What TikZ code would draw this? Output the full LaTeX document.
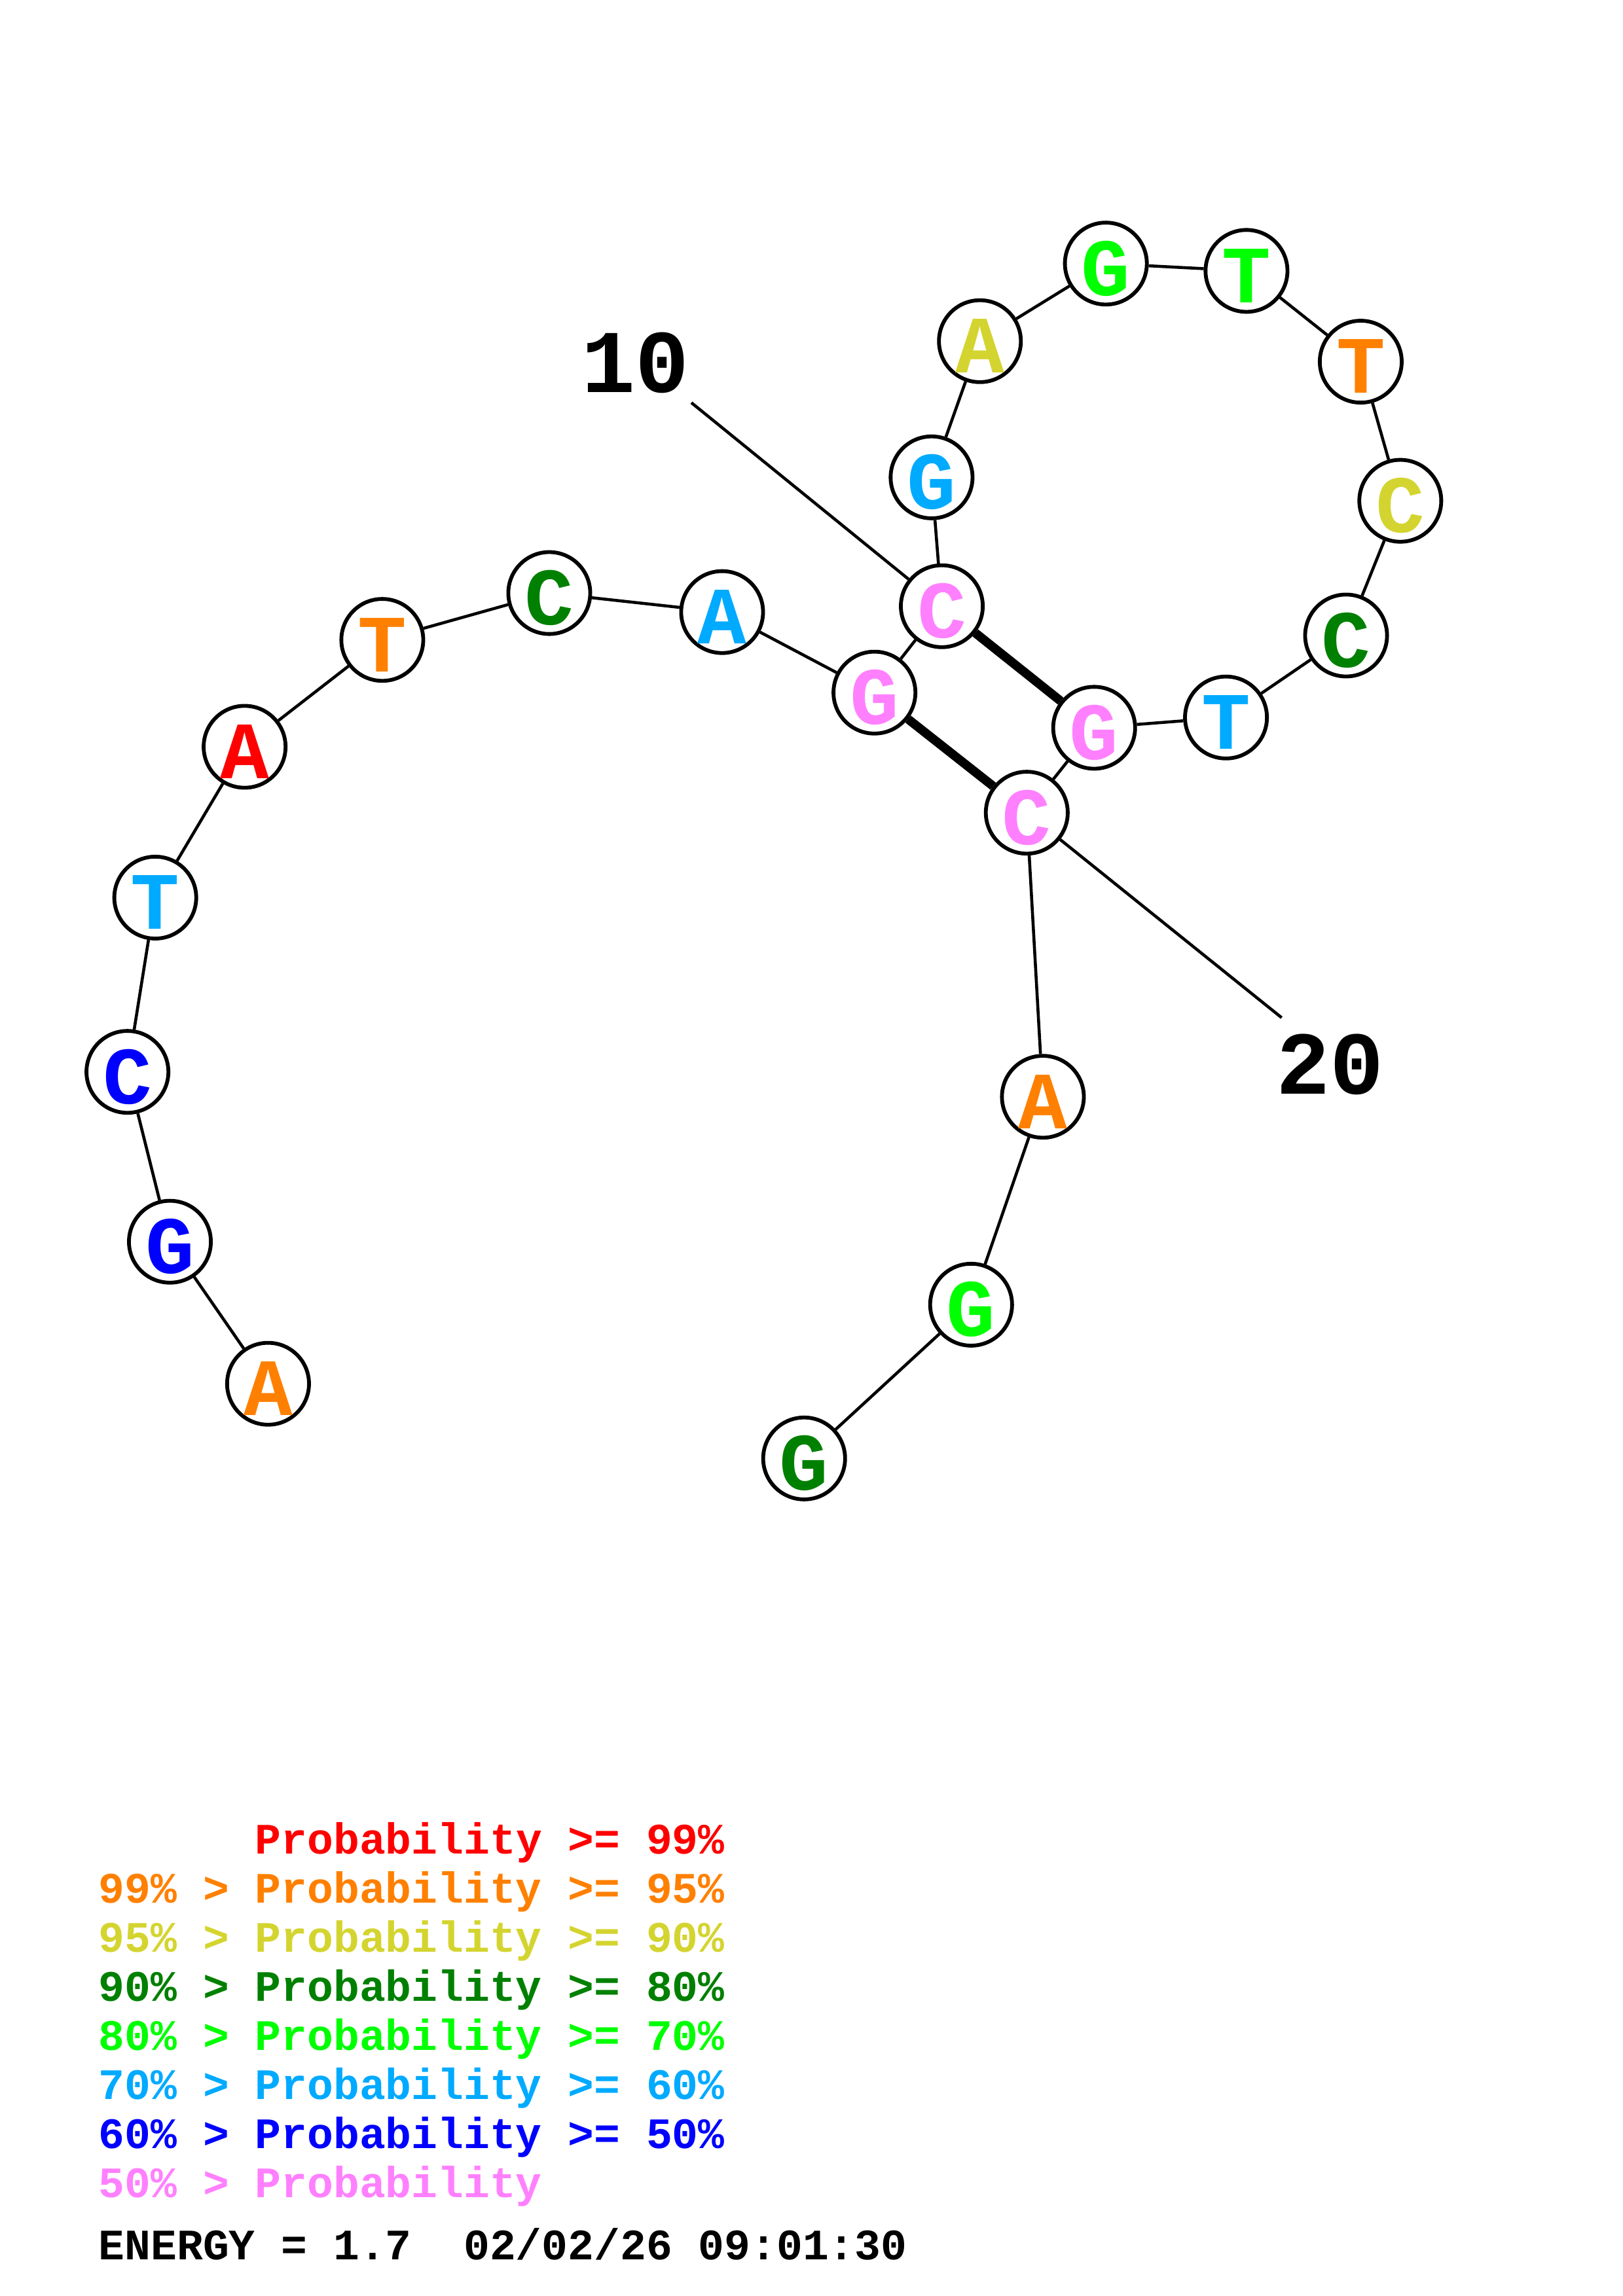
\documentclass[tikz,border=0pt]{standalone}
\usepackage{fontspec}
\setmainfont{Liberation Mono}
\usepackage{tikz}

\definecolor{pRed}{RGB}{255,0,0}
\definecolor{pOrange}{RGB}{255,128,0}
\definecolor{pYellow}{RGB}{212,212,48}
\definecolor{pDkGreen}{RGB}{0,128,0}
\definecolor{pGreen}{RGB}{0,255,0}
\definecolor{pLtBlue}{RGB}{0,170,255}
\definecolor{pBlue}{RGB}{0,0,255}
\definecolor{pPink}{RGB}{255,128,255}

\begin{document}
\begin{tikzpicture}[x=0.18953mm, y=-0.18953mm,
  base/.style={circle, draw=black, fill=white, line width=1.4pt, inner sep=0pt,
    minimum size=10.6mm, text height=8.2mm, text depth=0pt,
    font=\fontsize{30}{30}\selectfont\bfseries},
  backbone/.style={line width=1.1pt},
  pairline/.style={line width=3.3pt},
  numlab/.style={font=\fontsize{33}{33}\selectfont\bfseries},
  legend/.style={anchor=base west, inner sep=0pt, font=\fontsize{16}{16}\selectfont\bfseries}
]
\useasboundingbox (0,0) rectangle (1108,1568);

% bases
\foreach \n/\x/\y/\b/\c in {
  1/183/945/A/pOrange, 2/116/848/G/pBlue, 3/87/732/C/pBlue,
  4/106/613/T/pLtBlue, 5/167/510/A/pRed, 6/261/437/T/pOrange,
  7/375/405/C/pDkGreen, 8/493/418/A/pLtBlue, 9/597/473/G/pPink,
  10/643/414/C/pPink, 11/636/326/G/pLtBlue, 12/669/233/A/pYellow,
  13/755/180/G/pGreen, 14/851/185/T/pGreen, 15/929/247/T/pOrange,
  16/956/342/C/pYellow, 17/919/434/C/pDkGreen, 18/837/490/T/pLtBlue,
  19/747/497/G/pPink, 20/701/555/C/pPink, 21/712/749/A/pOrange,
  22/663/891/G/pGreen, 23/549/996/G/pDkGreen}
  \node[base, text=\c] (n\n) at (\x,\y) {\b};

% backbone
\foreach \i [evaluate=\i as \j using int(\i+1)] in {1,...,22}
  \draw[backbone] (n\i) -- (n\j);

% pairs
\draw[pairline] (n9) -- (n20);
\draw[pairline] (n10) -- (n19);

% numbering
\node[numlab] (lab10) at (434,248) {10};
\coordinate (tick10) at (472,275);
\draw[backbone] (tick10) -- (n10);
\node[numlab] (lab20) at (908,727) {20};
\coordinate (tick20) at (875,695);
\draw[backbone] (n20) -- (tick20);

% legend
\node[legend, text=pRed] (leg1) at (67,1266) {\hphantom{99\% > }Probability >= 99\%};
\node[legend, text=pOrange] (leg2) at (67,1299.5) {99\% > Probability >= 95\%};
\node[legend, text=pYellow] (leg3) at (67,1333) {95\% > Probability >= 90\%};
\node[legend, text=pDkGreen] (leg4) at (67,1366.5) {90\% > Probability >= 80\%};
\node[legend, text=pGreen] (leg5) at (67,1400) {80\% > Probability >= 70\%};
\node[legend, text=pLtBlue] (leg6) at (67,1433.5) {70\% > Probability >= 60\%};
\node[legend, text=pBlue] (leg7) at (67,1467) {60\% > Probability >= 50\%};
\node[legend, text=pPink] (leg8) at (67,1500.5) {50\% > Probability};
\node[legend, text=black] (energy) at (67,1543) {ENERGY = 1.7\ \ 02/02/26 09:01:30};
\end{tikzpicture}
\end{document}
